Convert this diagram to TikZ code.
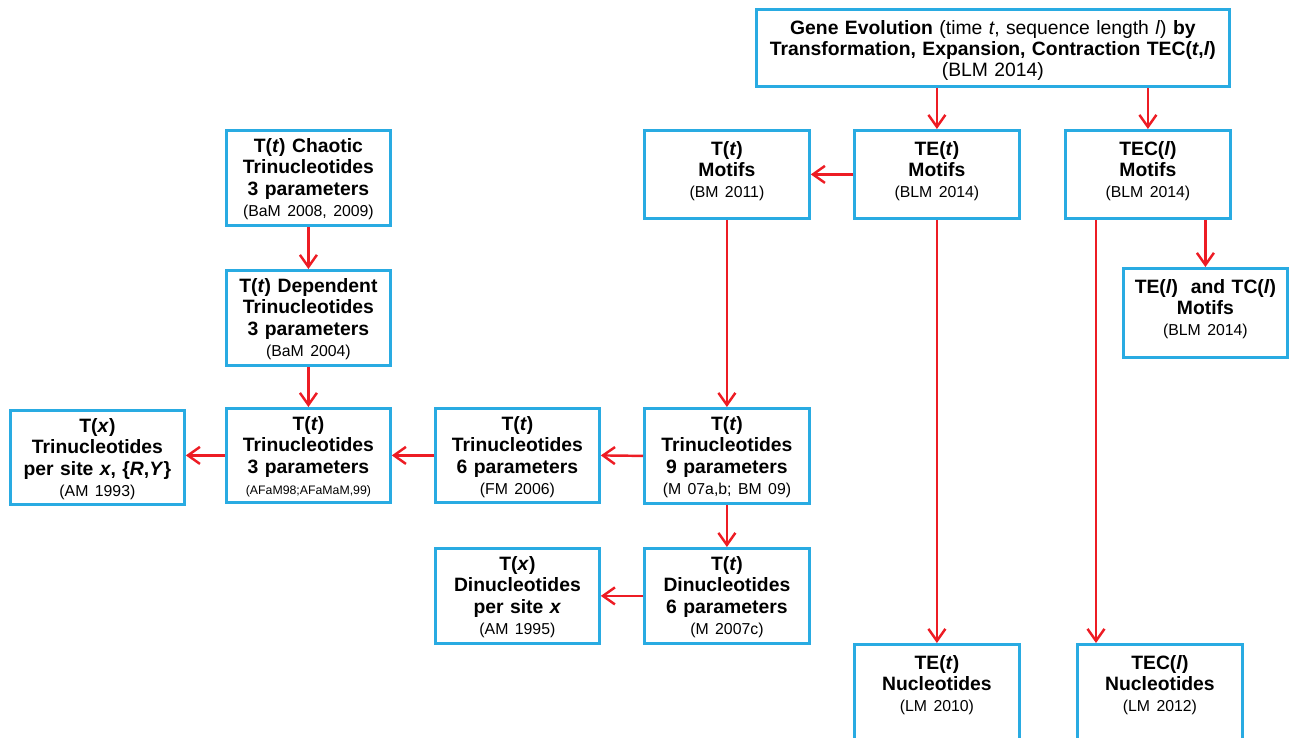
\documentclass[tikz,border=0pt]{standalone}
\usepackage{fontspec}
\setmainfont{Liberation Sans}
\usetikzlibrary{arrows.meta}
\definecolor{boxblue}{RGB}{41,171,226}
\definecolor{arrred}{RGB}{237,28,36}
\newcommand{\refs}[1]{{\mdseries\fontsize{9}{12}\selectfont #1}}
\begin{document}
\begin{tikzpicture}
		\tikzstyle{box}=[draw=boxblue, line width=1.6pt, anchor=north west, align=center, inner sep=0.1cm,
			text width=3.1cm, text height=0.35cm, text depth=1.35cm, font=\fontsize{11}{12}\selectfont\bfseries]
		\tikzstyle{motif}=[box, text height=0.4cm, text depth=1.16cm]
		\tikzstyle{arr}=[draw=arrred, line width=1.4pt, -{Straight Barb[length=2.4mm,width=3.4mm]}]
		\useasboundingbox (0,0) rectangle (25.8,-14.76);

		% top row
		\node[box, text width=9.26cm, text height=0.4cm, text depth=0.94cm] (gene) at (15.10,-0.16)
			{Gene Evolution \mdseries(time \textit{t}, sequence length \textit{l}) \bfseries by\\
			Transformation, Expansion, Contraction TEC(\textit{t},\textit{l})\\
			\mdseries(BLM 2014)};
		\node[motif] (tmot) at (12.86,-2.58) {T(\textit{t})\\Motifs\\\refs{(BM 2011)}};
		\node[motif] (temot) at (17.06,-2.58) {TE(\textit{t})\\Motifs\\\refs{(BLM 2014)}};
		\node[motif] (tecmot) at (21.28,-2.58) {TEC(\textit{l})\\Motifs\\\refs{(BLM 2014)}};
		\node[motif, text width=3.08cm, text depth=1.18cm] (tetc) at (22.44,-5.34)
			{TE(\textit{l})\ \ and TC(\textit{l})\\Motifs\\\refs{(BLM 2014)}};

		% left column
		\node[box, text width=3.08cm] (chaotic) at (4.50,-2.58)
			{T(\textit{t}) Chaotic\\Trinucleotides\\3 parameters\\\refs{(BaM 2008, 2009)}};
		\node[box, text width=3.08cm] (dep) at (4.50,-5.38)
			{T(\textit{t}) Dependent\\Trinucleotides\\3 parameters\\\refs{(BaM 2004)}};

		% trinucleotide row
		\node[box, text width=3.28cm, text depth=1.33cm] (tx3) at (0.18,-8.18)
			{T(\textit{x})\\Trinucleotides\\per site \textit{x}, \{\textit{R},\textit{Y}\}\\\refs{(AM 1993)}};
		\node[box, text width=3.08cm, text depth=1.33cm] (t3) at (4.50,-8.14)
			{T(\textit{t})\\Trinucleotides\\3 parameters\\{\mdseries\fontsize{7}{12}\selectfont(AFaM98;AFaMaM,99)}};
		\node[box, text width=3.08cm, text depth=1.33cm] (t6) at (8.68,-8.14)
			{T(\textit{t})\\Trinucleotides\\6 parameters\\\refs{(FM 2006)}};
		\node[box] (t9) at (12.86,-8.14)
			{T(\textit{t})\\Trinucleotides\\9 parameters\\\refs{(M 07a,b; BM 09)}};

		% dinucleotide row
		\node[box, text width=3.08cm] (dix) at (8.68,-10.94)
			{T(\textit{x})\\Dinucleotides\\per site \textit{x}\\\refs{(AM 1995)}};
		\node[box] (di6) at (12.86,-10.94)
			{T(\textit{t})\\Dinucleotides\\6 parameters\\\refs{(M 2007c)}};

		% nucleotides (cut by the bottom edge)
		\node[motif, text depth=2cm] (tenuc) at (17.06,-12.86) {TE(\textit{t})\\Nucleotides\\\refs{(LM 2010)}};
		\node[motif, text depth=2cm] (tecnuc) at (21.52,-12.86) {TEC(\textit{l})\\Nucleotides\\\refs{(LM 2012)}};

		\coordinate (split) at ([xshift=0.64cm]tecmot.south west);

		\draw[arr] (temot.north |- gene.south) -- (temot.north);
		\draw[arr] (tecmot.north |- gene.south) -- (tecmot.north);
		\draw[arr] (temot.west) -- (tmot.east);
		\draw[arr] (tetc.north |- tecmot.south) -- (tetc.north);
		\draw[arr] (temot.south) -- (tenuc.north);
		\draw[arr] (split) -- (split |- tecnuc.north);
		\draw[arr] (tmot.south) -- (t9.north);
		\draw[arr] (t9.west) -- (t6.east);
		\draw[arr] (t6.west) -- (t3.east);
		\draw[arr] (t3.west) -- (t3.west -| tx3.east);
		\draw[arr] (chaotic.south) -- (dep.north);
		\draw[arr] (dep.south) -- (t3.north);
		\draw[arr] (t9.south) -- (di6.north);
		\draw[arr] (di6.west) -- (dix.east);
	\end{tikzpicture}
\end{document}
